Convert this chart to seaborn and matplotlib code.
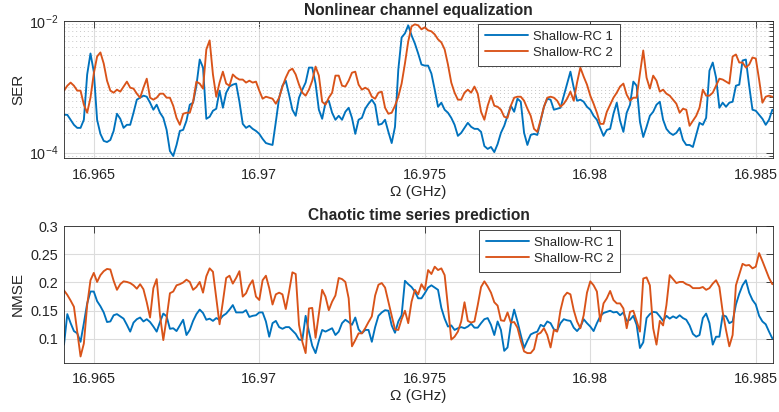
import numpy as np
import pandas as pd
import matplotlib
matplotlib.use("Agg")
import matplotlib.pyplot as plt
import seaborn as sns
from matplotlib.ticker import FixedLocator, NullFormatter

sns.set_style("white")
plt.rcParams['font.family'] = ['Liberation Sans', 'DejaVu Sans']
plt.rcParams['mathtext.fontset'] = 'custom'
plt.rcParams['mathtext.rm'] = 'Liberation Sans'
plt.rcParams['mathtext.it'] = 'Liberation Sans:italic'
plt.rcParams['mathtext.bf'] = 'Liberation Sans:bold'

# ---------------- data ----------------
freq = np.round(16.9641 + 0.0001 * np.arange(215), 4)   # GHz

series_names = ["Shallow-RC 1", "Shallow-RC 2"]

ser_rc1 = [
 3.76e-4, 3.76e-4, 3.16e-4, 2.65e-4, 2.38e-4, 2.38e-4, 3.16e-4, 1.54e-3, 3.21e-3, 1.70e-3,
 3.16e-4, 1.93e-4, 1.51e-4, 1.45e-4, 1.56e-4, 2.14e-4, 3.90e-4, 3.27e-4, 2.38e-4, 2.65e-4,
 2.65e-4, 4.04e-4, 6.38e-4, 6.84e-4, 7.34e-4, 7.08e-4, 5.74e-4, 4.49e-4, 5.35e-4, 4.04e-4,
 3.38e-4, 2.22e-4, 1.06e-4, 8.9e-5, 1.31e-4, 2.14e-4, 2.22e-4, 3.05e-4, 5.35e-4, 5.74e-4,
 1.04e-3, 2.60e-3, 1.96e-3, 3.27e-4, 3.51e-4, 4.33e-4, 4.65e-4, 8.75e-4, 4.81e-4, 8.15e-4,
 1.01e-3, 1.08e-3, 1.12e-3, 5.94e-4, 2.74e-4, 2.38e-4, 2.56e-4, 2.30e-4, 2.14e-4, 1.93e-4,
 1.62e-4, 1.40e-4, 1.35e-4, 1.31e-4, 2.94e-4, 6.84e-4, 1.04e-3, 1.24e-3, 7.60e-4, 4.49e-4,
 3.63e-4, 6.84e-4, 9.06e-4, 1.16e-3, 1.96e-3, 1.96e-3, 1.12e-3, 4.49e-4, 3.27e-4, 5.74e-4,
 6.15e-4, 4.04e-4, 3.16e-4, 3.63e-4, 3.16e-4, 4.18e-4, 4.81e-4, 3.38e-4, 1.93e-4, 3.16e-4,
 3.38e-4, 4.65e-4, 5.54e-4, 6.38e-4, 5.35e-4, 2.65e-4, 2.74e-4, 3.16e-4, 2.07e-4, 1.40e-4,
 2.47e-4, 1.83e-3, 5.63e-3, 6.48e-3, 8.59e-3, 6.04e-3, 4.56e-3, 3.21e-3, 2.18e-3, 2.10e-3,
 2.10e-3, 1.59e-3, 9.06e-4, 4.98e-4, 5.74e-4, 4.49e-4, 4.04e-4, 3.38e-4, 2.65e-4, 1.80e-4,
 2.00e-4, 2.38e-4, 2.84e-4, 2.47e-4, 2.30e-4, 2.30e-4, 2.07e-4, 1.26e-4, 1.14e-4, 1.22e-4,
 1.02e-4, 1.35e-4, 2.00e-4, 2.56e-4, 3.63e-4, 5.16e-4, 4.18e-4, 6.60e-4, 5.94e-4, 2.00e-4,
 1.31e-4, 1.86e-4, 1.93e-4, 1.86e-4, 3.05e-4, 4.98e-4, 6.60e-4, 6.38e-4, 4.49e-4, 4.65e-4,
 4.81e-4, 7.34e-4, 1.12e-3, 1.70e-3, 9.7e-4, 6.15e-4, 6.38e-4, 5.94e-4, 4.98e-4, 4.49e-4,
 3.63e-4, 3.16e-4, 2.38e-4, 1.80e-4, 2.22e-4, 2.30e-4, 3.90e-4, 5.74e-4, 3.05e-4, 2.07e-4,
 4.04e-4, 5.35e-4, 1.20e-3, 1.04e-3, 2.94e-4, 1.73e-4, 2.47e-4, 3.63e-4, 4.18e-4, 5.35e-4,
 5.94e-4, 3.16e-4, 2.30e-4, 2.00e-4, 1.86e-4, 2.00e-4, 2.38e-4, 1.56e-4, 1.31e-4, 1.31e-4,
 1.22e-4, 1.86e-4, 2.84e-4, 2.65e-4, 3.38e-4, 1.76e-3, 2.34e-3, 1.38e-3, 4.81e-4, 5.74e-4,
 4.98e-4, 5.74e-4, 5.94e-4, 1.04e-3, 1.08e-3, 2.51e-3, 2.60e-3, 1.04e-3, 4.49e-4, 4.33e-4,
 3.76e-4, 3.27e-4, 2.65e-4, 3.16e-4, 4.49e-4]

ser_rc2 = [
 8.75e-4, 1.04e-3, 1.16e-3, 1.04e-3, 8.75e-4, 8.75e-4, 5.35e-4, 4.04e-4, 6.84e-4, 1.59e-3,
 2.89e-3, 3.33e-3, 2.26e-3, 1.24e-3, 8.75e-4, 8.15e-4, 9.06e-4, 8.45e-4, 1.01e-3, 1.20e-3,
 9.7e-4, 9.4e-4, 7.87e-4, 6.84e-4, 9.7e-4, 1.33e-3, 6.84e-4, 6.38e-4, 6.84e-4, 7.87e-4,
 7.87e-4, 6.84e-4, 6.84e-4, 5.16e-4, 3.38e-4, 2.65e-4, 3.90e-4, 4.04e-4, 4.04e-4, 5.94e-4,
 1.20e-3, 1.12e-3, 9.4e-4, 3.70e-3, 5.07e-3, 1.54e-3, 7.08e-4, 1.16e-3, 1.70e-3, 1.12e-3,
 1.04e-3, 1.54e-3, 1.38e-3, 1.29e-3, 1.29e-3, 1.16e-3, 1.24e-3, 1.16e-3, 1.20e-3, 8.75e-4,
 6.60e-4, 7.08e-4, 6.84e-4, 6.60e-4, 5.54e-4, 6.84e-4, 1.01e-3, 1.38e-3, 1.76e-3, 1.89e-3,
 1.54e-3, 1.08e-3, 8.15e-4, 7.34e-4, 9.06e-4, 1.24e-3, 2.03e-3, 1.48e-3, 5.94e-4, 5.35e-4,
 6.84e-4, 8.15e-4, 1.48e-3, 1.48e-3, 1.04e-3, 1.01e-3, 1.24e-3, 1.64e-3, 1.70e-3, 1.08e-3,
 9.06e-4, 9.7e-4, 9.06e-4, 7.08e-4, 6.60e-4, 8.15e-4, 8.45e-4, 4.81e-4, 3.90e-4, 4.04e-4,
 5.16e-4, 7.08e-4, 1.12e-3, 2.26e-3, 4.90e-3, 8.29e-3, 8.90e-3, 8.59e-3, 7.47e-3, 8.01e-3,
 7.21e-3, 6.96e-3, 6.26e-3, 5.26e-3, 4.73e-3, 3.70e-3, 2.18e-3, 1.16e-3, 8.15e-4, 6.38e-4,
 6.38e-4, 8.15e-4, 9.06e-4, 8.15e-4, 1.01e-3, 7.87e-4, 4.18e-4, 3.16e-4, 5.16e-4, 7.34e-4,
 5.16e-4, 4.98e-4, 4.49e-4, 3.51e-4, 3.38e-4, 5.16e-4, 6.84e-4, 7.08e-4, 7.08e-4, 6.15e-4,
 4.65e-4, 3.63e-4, 2.30e-4, 2.07e-4, 3.16e-4, 4.98e-4, 6.84e-4, 7.08e-4, 6.84e-4, 6.15e-4,
 4.98e-4, 5.54e-4, 6.60e-4, 8.45e-4, 6.15e-4, 1.16e-3, 1.96e-3, 1.43e-3, 1.08e-3, 7.34e-4,
 5.54e-4, 4.04e-4, 2.74e-4, 2.74e-4, 4.18e-4, 5.35e-4, 6.84e-4, 8.15e-4, 1.01e-3, 1.12e-3,
 7.60e-4, 6.15e-4, 6.84e-4, 6.84e-4, 1.59e-3, 3.57e-3, 1.38e-3, 9.4e-4, 1.48e-3, 1.24e-3,
 8.45e-4, 9.06e-4, 7.87e-4, 7.34e-4, 6.38e-4, 5.54e-4, 4.04e-4, 4.65e-4, 4.49e-4, 2.56e-4,
 3.05e-4, 3.63e-4, 4.81e-4, 9.06e-4, 7.34e-4, 7.34e-4, 8.15e-4, 1.04e-3, 1.33e-3, 1.29e-3,
 1.20e-3, 1.12e-3, 2.89e-3, 3.10e-3, 2.34e-3, 2.34e-3, 1.96e-3, 2.18e-3, 2.79e-3, 2.69e-3,
 1.29e-3, 5.74e-4, 7.08e-4, 7.34e-4, 7.08e-4]

nmse_rc1 = [
 0.090, 0.144, 0.128, 0.114, 0.110, 0.095, 0.128, 0.163, 0.184, 0.184,
 0.167, 0.158, 0.147, 0.130, 0.131, 0.142, 0.144, 0.140, 0.136, 0.125,
 0.113, 0.129, 0.135, 0.138, 0.131, 0.135, 0.130, 0.122, 0.113, 0.130,
 0.145, 0.140, 0.118, 0.119, 0.114, 0.124, 0.134, 0.107, 0.116, 0.132,
 0.144, 0.152, 0.146, 0.134, 0.136, 0.132, 0.137, 0.134, 0.141, 0.145,
 0.152, 0.160, 0.147, 0.147, 0.147, 0.151, 0.139, 0.141, 0.142, 0.147,
 0.147, 0.131, 0.104, 0.128, 0.132, 0.121, 0.118, 0.121, 0.121, 0.115,
 0.109, 0.099, 0.098, 0.141, 0.113, 0.088, 0.075, 0.097, 0.116, 0.113,
 0.116, 0.119, 0.107, 0.113, 0.128, 0.134, 0.130, 0.125, 0.138, 0.117,
 0.110, 0.116, 0.116, 0.095, 0.121, 0.141, 0.147, 0.151, 0.150, 0.124,
 0.111, 0.131, 0.142, 0.203, 0.197, 0.192, 0.184, 0.172, 0.172, 0.181,
 0.191, 0.195, 0.191, 0.187, 0.155, 0.136, 0.122, 0.124, 0.116, 0.119,
 0.121, 0.119, 0.122, 0.127, 0.120, 0.120, 0.128, 0.135, 0.137, 0.125,
 0.107, 0.131, 0.116, 0.079, 0.085, 0.126, 0.152, 0.131, 0.107, 0.084,
 0.097, 0.108, 0.111, 0.113, 0.125, 0.122, 0.131, 0.128, 0.117, 0.115,
 0.128, 0.135, 0.133, 0.132, 0.120, 0.114, 0.121, 0.135, 0.128, 0.122,
 0.114, 0.128, 0.140, 0.146, 0.148, 0.150, 0.147, 0.148, 0.142, 0.147,
 0.132, 0.134, 0.141, 0.125, 0.084, 0.094, 0.137, 0.144, 0.148, 0.147,
 0.140, 0.132, 0.141, 0.136, 0.140, 0.137, 0.142, 0.137, 0.134, 0.124,
 0.109, 0.104, 0.107, 0.137, 0.145, 0.128, 0.090, 0.104, 0.104, 0.142,
 0.140, 0.128, 0.131, 0.161, 0.180, 0.195, 0.204, 0.182, 0.169, 0.161,
 0.141, 0.131, 0.126, 0.113, 0.101]

nmse_rc2 = [
 0.186, 0.178, 0.168, 0.157, 0.113, 0.069, 0.092, 0.160, 0.204, 0.217,
 0.201, 0.213, 0.220, 0.224, 0.223, 0.203, 0.187, 0.197, 0.202, 0.201,
 0.199, 0.195, 0.189, 0.197, 0.188, 0.165, 0.138, 0.190, 0.206, 0.142,
 0.098, 0.137, 0.181, 0.184, 0.195, 0.197, 0.200, 0.205, 0.201, 0.187,
 0.192, 0.201, 0.182, 0.211, 0.225, 0.219, 0.172, 0.126, 0.166, 0.208,
 0.212, 0.198, 0.208, 0.220, 0.175, 0.181, 0.195, 0.204, 0.175, 0.169,
 0.204, 0.212, 0.190, 0.161, 0.179, 0.182, 0.179, 0.153, 0.184, 0.218,
 0.215, 0.125, 0.095, 0.075, 0.154, 0.155, 0.102, 0.145, 0.187, 0.175,
 0.151, 0.166, 0.177, 0.208, 0.206, 0.201, 0.172, 0.087, 0.098, 0.110,
 0.110, 0.119, 0.130, 0.140, 0.177, 0.196, 0.199, 0.191, 0.166, 0.141,
 0.117, 0.116, 0.135, 0.150, 0.128, 0.166, 0.187, 0.179, 0.197, 0.187,
 0.222, 0.215, 0.228, 0.222, 0.225, 0.213, 0.157, 0.099, 0.104, 0.113,
 0.131, 0.165, 0.132, 0.129, 0.131, 0.160, 0.192, 0.202, 0.193, 0.182,
 0.165, 0.159, 0.133, 0.132, 0.147, 0.129, 0.130, 0.120, 0.097, 0.078,
 0.075, 0.075, 0.082, 0.108, 0.111, 0.119, 0.107, 0.085, 0.116, 0.113,
 0.151, 0.175, 0.182, 0.179, 0.151, 0.131, 0.119, 0.142, 0.182, 0.202,
 0.195, 0.184, 0.131, 0.163, 0.172, 0.185, 0.169, 0.163, 0.163, 0.154,
 0.119, 0.148, 0.150, 0.132, 0.113, 0.207, 0.209, 0.195, 0.119, 0.090,
 0.132, 0.124, 0.160, 0.213, 0.206, 0.199, 0.201, 0.201, 0.197, 0.195,
 0.190, 0.190, 0.190, 0.192, 0.187, 0.190, 0.198, 0.204, 0.192, 0.148,
 0.116, 0.087, 0.107, 0.195, 0.214, 0.233, 0.230, 0.231, 0.225, 0.228,
 0.252, 0.238, 0.223, 0.208, 0.197]

x_ticks = [16.965, 16.97, 16.975, 16.98, 16.985]
x_tick_labels = ["16.965", "16.97", "16.975", "16.98", "16.985"]
ser_ticks = [1e-4, 1e-2]
ser_tick_labels = [r"$10^{-4}$", r"$10^{-2}$"]
nmse_ticks = [0.1, 0.15, 0.2, 0.25, 0.3]
nmse_tick_labels = ["0.1", "0.15", "0.2", "0.25", "0.3"]

colors = ["#0072BD", "#D95319"]

df_top = pd.DataFrame({
    "freq": np.concatenate([freq, freq]),
    "val": np.concatenate([ser_rc1, ser_rc2]),
    "series": [series_names[0]] * len(freq) + [series_names[1]] * len(freq)})
df_bot = pd.DataFrame({
    "freq": np.concatenate([freq, freq]),
    "val": np.concatenate([nmse_rc1, nmse_rc2]),
    "series": [series_names[0]] * len(freq) + [series_names[1]] * len(freq)})

# ---------------- figure ----------------
fig = plt.figure(figsize=(7.79, 4.12), dpi=100)
ax1 = fig.add_axes([64 / 779, 1 - 158 / 412, 709 / 779, 137 / 412])
ax2 = fig.add_axes([64 / 779, 1 - 362.7 / 412, 709 / 779, 136.7 / 412])

spine_col = "#262626"
grid_col = "#dcdcdc"

for ax, df in [(ax1, df_top), (ax2, df_bot)]:
    sns.lineplot(data=df, x="freq", y="val", hue="series", hue_order=series_names,
                 palette=colors, linewidth=1.35, ax=ax, estimator=None, sort=False)
    ax.set_xlim(16.9641, 16.98552)
    ax.xaxis.set_major_locator(FixedLocator(x_ticks))
    ax.set_xticklabels(x_tick_labels)
    for s in ax.spines.values():
        s.set_color(spine_col)
        s.set_linewidth(0.6)
    ax.tick_params(axis="both", which="both", direction="in", top=True, right=True,
                   colors=spine_col, labelsize=10.4, width=0.6)
    ax.tick_params(axis="both", which="major", length=5, pad=4)
    ax.tick_params(axis="x", which="major", pad=7)
    ax.tick_params(axis="both", which="minor", length=2.8)
    for lab in ax.get_xticklabels() + ax.get_yticklabels():
        lab.set_color("#262626")
    ax.set_xlabel("Ω (GHz)", fontsize=11, labelpad=2, color="#262626")
    ax.set_axisbelow(True)
    leg = ax.legend(loc="upper left", frameon=True, fancybox=False, fontsize=9.4,
                    handlelength=3.3, handletextpad=0.4, borderpad=0.52,
                    labelspacing=0.3, borderaxespad=0)
    leg.get_frame().set_edgecolor("#262626")
    leg.get_frame().set_linewidth(0.6)
    leg.get_frame().set_alpha(1)

# top panel (log scale)
ax1.set_yscale("log")
ax1.set_ylim(8.3e-5, 1e-2)
ax1.yaxis.set_major_locator(FixedLocator(ser_ticks))
ax1.set_yticklabels(ser_tick_labels)
minor = [m * 10.0 ** e for e in (-5, -4, -3) for m in range(1, 10)]
minor = [v for v in minor if 8.3e-5 < v < 1e-2 and v not in ser_ticks]
ax1.yaxis.set_minor_locator(FixedLocator(minor))
ax1.yaxis.set_minor_formatter(NullFormatter())
ax1.grid(True, which="major", color=grid_col, linewidth=0.8)
ax1.grid(True, which="minor", axis="y", color="#c8c8c8", linestyle=(0, (1, 3)), linewidth=0.7)
ax1.set_ylabel("SER", fontsize=11, labelpad=2.5, color="#262626")
ax1.set_title("Nonlinear channel equalization", fontsize=11.2, fontweight="bold", pad=4)
ax1.legend_.set_bbox_to_anchor((0.584, 0.978))

# bottom panel
ax2.set_ylim(0.058, 0.3)
ax2.yaxis.set_major_locator(FixedLocator(nmse_ticks))
ax2.set_yticklabels(nmse_tick_labels)
ax2.grid(True, which="major", color=grid_col, linewidth=0.8)
ax2.set_ylabel("NMSE", fontsize=11, labelpad=4, color="#262626")
ax2.set_title("Chaotic time series prediction", fontsize=11.2, fontweight="bold", pad=4)
ax2.legend_.set_bbox_to_anchor((0.585, 0.971))

fig.savefig("out.png", dpi=100)
